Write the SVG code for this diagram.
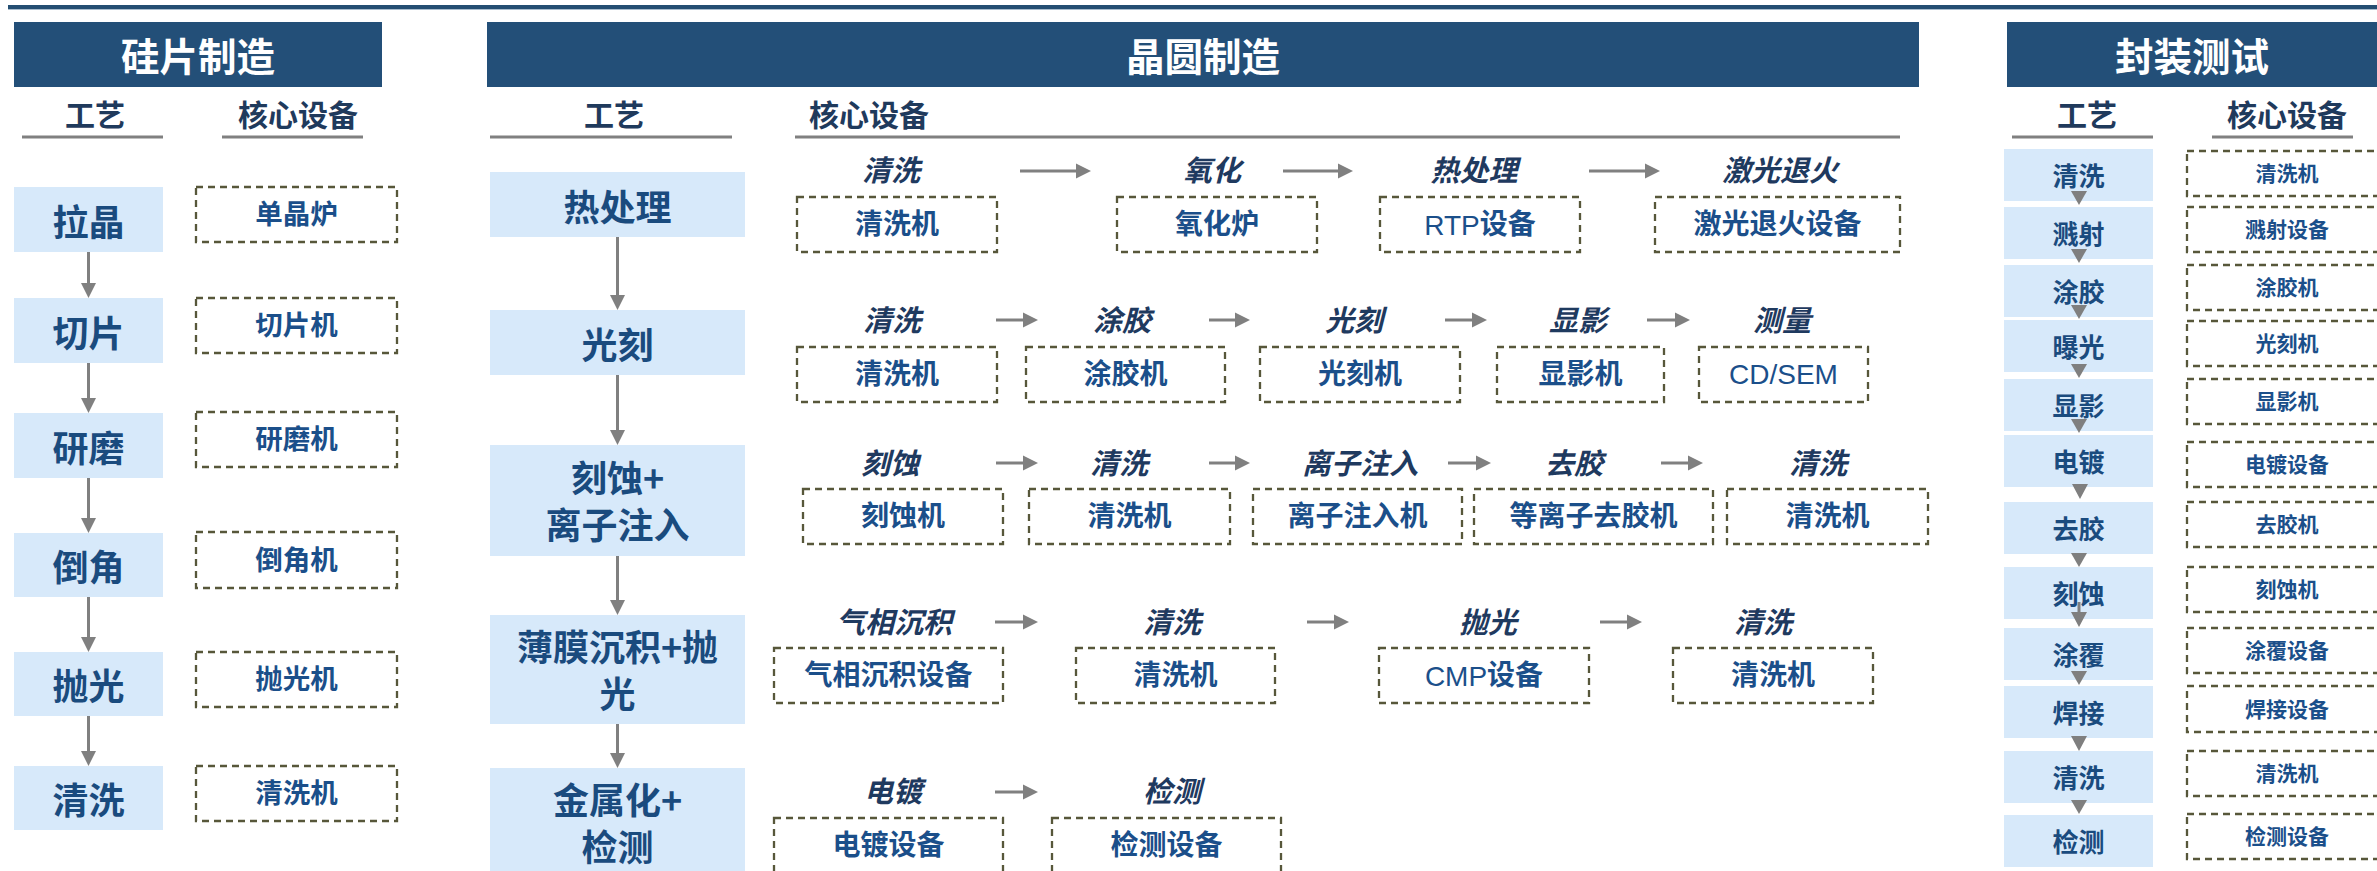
<svg xmlns="http://www.w3.org/2000/svg" width="2377" height="871" viewBox="0 0 2377 871">
<style>
text{font-family:"Liberation Sans","Noto Sans CJK SC",sans-serif;text-anchor:middle;dominant-baseline:central}
.hdr{fill:#234F78}
.hdrt{fill:#FFFFFF;font-size:38.5px;font-weight:700;font-family:"Noto Sans CJK SC",sans-serif}
.sub{fill:#1F3A5C;font-size:30px;font-weight:700;font-family:"Noto Sans CJK SC",sans-serif}
.ul{stroke:#808080;stroke-width:3}
.pbox{fill:#D7E9FA}
.pt{fill:#1A4B7E;font-size:36px;font-weight:700;font-family:"Noto Sans CJK SC",sans-serif}
.pt3{fill:#1A4B7E;font-size:26px;font-weight:700;font-family:"Noto Sans CJK SC",sans-serif}
.ebox{fill:none;stroke:#57573A;stroke-width:2.3;stroke-dasharray:7 5}
.et{fill:#1B4F8A;font-size:28px;font-weight:700}
.et1{fill:#1B4F8A;font-size:27.5px;font-weight:700}
.et3{fill:#1B4F8A;font-size:21px;font-weight:700}
.lat{font-weight:400}
.lab{fill:#1F3A5F;font-size:29px;font-style:italic;font-weight:700;font-family:"Noto Sans CJK SC",sans-serif}
.conn{stroke:#808080;stroke-width:3;fill:none;marker-end:url(#ah)}
.tri{fill:#7F7F7F}
</style>
<defs>
<marker id="ah" markerUnits="userSpaceOnUse" markerWidth="16" markerHeight="16" viewBox="0 0 16 16" refX="5" refY="8" orient="auto">
<path d="M0,0.5 L15,8 L0,15.5 Z" fill="#808080"/>
</marker>
</defs>
<rect x="8" y="5" width="2369" height="4" fill="#244E72"/>
<line x1="8" y1="9.5" x2="2377" y2="9.5" stroke="#A9BCCD" stroke-width="1"/>

<!-- Section headers -->
<g id="hdr-silicon"><rect class="hdr" x="14" y="22" width="368" height="65"/><text class="hdrt" x="198" y="54">硅片制造</text></g>
<g id="hdr-wafer"><rect class="hdr" x="487" y="22" width="1432" height="65"/><text class="hdrt" x="1203" y="54">晶圆制造</text></g>
<g id="hdr-package"><rect class="hdr" x="2007" y="22" width="370" height="65"/><text class="hdrt" x="2192" y="54">封装测试</text></g>

<g id="subheaders">
<text class="sub" x="95" y="113">工艺</text><line class="ul" x1="22" y1="137" x2="163" y2="137"/>
<text class="sub" x="298" y="113">核心设备</text><line class="ul" x1="222" y1="137" x2="363" y2="137"/>
<text class="sub" x="614" y="113">工艺</text><line class="ul" x1="490" y1="137" x2="732" y2="137"/>
<text class="sub" x="809" y="113" style="text-anchor:start">核心设备</text><line class="ul" x1="795" y1="137" x2="1900" y2="137"/>
<text class="sub" x="2087" y="113">工艺</text><line class="ul" x1="2012" y1="137" x2="2153" y2="137"/>
<text class="sub" x="2287" y="113">核心设备</text><line class="ul" x1="2212" y1="137" x2="2353" y2="137"/>
</g>

<!-- Section 1 process -->
<g id="s1-p1"><rect class="pbox" x="14" y="187" width="149" height="65"/><text class="pt" x="88.5" y="219.5">拉晶</text></g>
<g id="s1-p2"><rect class="pbox" x="14" y="298" width="149" height="65"/><text class="pt" x="88.5" y="330.5">切片</text></g>
<g id="s1-p3"><rect class="pbox" x="14" y="413" width="149" height="65"/><text class="pt" x="88.5" y="445.5">研磨</text></g>
<g id="s1-p4"><rect class="pbox" x="14" y="533" width="149" height="64"/><text class="pt" x="88.5" y="565">倒角</text></g>
<g id="s1-p5"><rect class="pbox" x="14" y="652" width="149" height="64"/><text class="pt" x="88.5" y="684">抛光</text></g>
<g id="s1-p6"><rect class="pbox" x="14" y="766" width="149" height="64"/><text class="pt" x="88.5" y="798">清洗</text></g>

<!-- Section 1 equipment -->
<g id="s1-e1"><rect class="ebox" x="196" y="187" width="201" height="55"/><text class="et1" x="296.5" y="214.5">单晶炉</text></g>
<g id="s1-e2"><rect class="ebox" x="196" y="298" width="201" height="55"/><text class="et1" x="296.5" y="325.5">切片机</text></g>
<g id="s1-e3"><rect class="ebox" x="196" y="412" width="201" height="55"/><text class="et1" x="296.5" y="439.5">研磨机</text></g>
<g id="s1-e4"><rect class="ebox" x="196" y="532" width="201" height="56"/><text class="et1" x="296.5" y="560">倒角机</text></g>
<g id="s1-e5"><rect class="ebox" x="196" y="652" width="201" height="55"/><text class="et1" x="296.5" y="679.5">抛光机</text></g>
<g id="s1-e6"><rect class="ebox" x="196" y="766" width="201" height="55"/><text class="et1" x="296.5" y="793.5">清洗机</text></g>

<!-- Section 2 process -->
<g id="s2-p1"><rect class="pbox" x="490" y="172" width="255" height="65"/><text class="pt" x="617.5" y="204.5">热处理</text></g>
<g id="s2-p2"><rect class="pbox" x="490" y="310" width="255" height="65"/><text class="pt" x="617.5" y="342.5">光刻</text></g>
<g id="s2-p3"><rect class="pbox" x="490" y="445" width="255" height="111"/><text class="pt" x="617.5" y="476">刻蚀+</text><text class="pt" x="617.5" y="523">离子注入</text></g>
<g id="s2-p4"><rect class="pbox" x="490" y="615" width="255" height="109"/><text class="pt" x="617.5" y="645">薄膜沉积+抛</text><text class="pt" x="617.5" y="692">光</text></g>
<g id="s2-p5"><rect class="pbox" x="490" y="768" width="255" height="112"/><text class="pt" x="617.5" y="798">金属化+</text><text class="pt" x="617.5" y="845">检测</text></g>

<!-- Section 2 row 1 -->
<g id="r1-s1"><text class="lab" x="891" y="168">清洗</text><rect class="ebox" x="797" y="197" width="200" height="55"/><text class="et" x="897" y="224.5">清洗机</text></g>
<g id="r1-s2"><text class="lab" x="1212" y="168">氧化</text><rect class="ebox" x="1117" y="197" width="200" height="55"/><text class="et" x="1217" y="224.5">氧化炉</text></g>
<g id="r1-s3"><text class="lab" x="1474" y="168">热处理</text><rect class="ebox" x="1380" y="197" width="200" height="55"/><text class="et" x="1480" y="224.5"><tspan class="lat">RTP</tspan>设备</text></g>
<g id="r1-s4"><text class="lab" x="1780" y="168">激光退火</text><rect class="ebox" x="1655" y="197" width="245" height="55"/><text class="et" x="1777.5" y="224.5">激光退火设备</text></g>

<!-- Section 2 row 2 -->
<g id="r2-s1"><text class="lab" x="892" y="318">清洗</text><rect class="ebox" x="797" y="347" width="200" height="55"/><text class="et" x="897" y="374.5">清洗机</text></g>
<g id="r2-s2"><text class="lab" x="1122" y="318">涂胶</text><rect class="ebox" x="1026" y="347" width="199" height="55"/><text class="et" x="1125.5" y="374.5">涂胶机</text></g>
<g id="r2-s3"><text class="lab" x="1354" y="318">光刻</text><rect class="ebox" x="1260" y="347" width="200" height="55"/><text class="et" x="1360" y="374.5">光刻机</text></g>
<g id="r2-s4"><text class="lab" x="1578" y="318">显影</text><rect class="ebox" x="1497" y="347" width="167" height="55"/><text class="et" x="1580.5" y="374.5">显影机</text></g>
<g id="r2-s5"><text class="lab" x="1782" y="318">测量</text><rect class="ebox" x="1699" y="347" width="169" height="55"/><text class="et lat" x="1783.5" y="374.5">CD/SEM</text></g>

<!-- Section 2 row 3 -->
<g id="r3-s1"><text class="lab" x="890" y="461">刻蚀</text><rect class="ebox" x="803" y="489" width="200" height="55"/><text class="et" x="903" y="516.5">刻蚀机</text></g>
<g id="r3-s2"><text class="lab" x="1119" y="461">清洗</text><rect class="ebox" x="1029" y="489" width="201" height="55"/><text class="et" x="1129.5" y="516.5">清洗机</text></g>
<g id="r3-s3"><text class="lab" x="1360" y="461">离子注入</text><rect class="ebox" x="1253" y="489" width="209" height="55"/><text class="et" x="1357.5" y="516.5">离子注入机</text></g>
<g id="r3-s4"><text class="lab" x="1574" y="461">去胶</text><rect class="ebox" x="1474" y="489" width="239" height="55"/><text class="et" x="1593.5" y="516.5">等离子去胶机</text></g>
<g id="r3-s5"><text class="lab" x="1818" y="461">清洗</text><rect class="ebox" x="1727" y="489" width="201" height="55"/><text class="et" x="1827.5" y="516.5">清洗机</text></g>

<!-- Section 2 row 4 -->
<g id="r4-s1"><text class="lab" x="894" y="620">气相沉积</text><rect class="ebox" x="774" y="648" width="229" height="55"/><text class="et" x="888.5" y="675.5">气相沉积设备</text></g>
<g id="r4-s2"><text class="lab" x="1172" y="620">清洗</text><rect class="ebox" x="1076" y="648" width="199" height="55"/><text class="et" x="1175.5" y="675.5">清洗机</text></g>
<g id="r4-s3"><text class="lab" x="1488" y="620">抛光</text><rect class="ebox" x="1379" y="648" width="210" height="55"/><text class="et" x="1484" y="675.5"><tspan class="lat">CMP</tspan>设备</text></g>
<g id="r4-s4"><text class="lab" x="1763" y="620">清洗</text><rect class="ebox" x="1673" y="648" width="200" height="55"/><text class="et" x="1773" y="675.5">清洗机</text></g>

<!-- Section 2 row 5 -->
<g id="r5-s1"><text class="lab" x="893" y="789">电镀</text><rect class="ebox" x="774" y="818" width="229" height="56"/><text class="et" x="888.5" y="845">电镀设备</text></g>
<g id="r5-s2"><text class="lab" x="1172" y="789">检测</text><rect class="ebox" x="1052" y="818" width="229" height="56"/><text class="et" x="1166.5" y="845">检测设备</text></g>

<!-- Section 3 process -->
<g id="s3-p1"><rect class="pbox" x="2004" y="149" width="149" height="52"/><text class="pt3" x="2078.5" y="174">清洗</text></g>
<g id="s3-p2"><rect class="pbox" x="2004" y="207" width="149" height="52"/><text class="pt3" x="2078.5" y="232">溅射</text></g>
<g id="s3-p3"><rect class="pbox" x="2004" y="265" width="149" height="52"/><text class="pt3" x="2078.5" y="290">涂胶</text></g>
<g id="s3-p4"><rect class="pbox" x="2004" y="320" width="149" height="52"/><text class="pt3" x="2078.5" y="345">曝光</text></g>
<g id="s3-p5"><rect class="pbox" x="2004" y="379" width="149" height="52"/><text class="pt3" x="2078.5" y="404">显影</text></g>
<g id="s3-p6"><rect class="pbox" x="2004" y="435" width="149" height="52"/><text class="pt3" x="2078.5" y="460">电镀</text></g>
<g id="s3-p7"><rect class="pbox" x="2004" y="502" width="149" height="52"/><text class="pt3" x="2078.5" y="527">去胶</text></g>
<g id="s3-p8"><rect class="pbox" x="2004" y="567" width="149" height="52"/><text class="pt3" x="2078.5" y="592">刻蚀</text></g>
<g id="s3-p9"><rect class="pbox" x="2004" y="628" width="149" height="52"/><text class="pt3" x="2078.5" y="653">涂覆</text></g>
<g id="s3-p10"><rect class="pbox" x="2004" y="686" width="149" height="52"/><text class="pt3" x="2078.5" y="711">焊接</text></g>
<g id="s3-p11"><rect class="pbox" x="2004" y="751" width="149" height="52"/><text class="pt3" x="2078.5" y="776">清洗</text></g>
<g id="s3-p12"><rect class="pbox" x="2004" y="815" width="149" height="52"/><text class="pt3" x="2078.5" y="840">检测</text></g>

<!-- Section 3 equipment -->
<g id="s3-e1"><rect class="ebox" x="2187" y="151" width="200" height="45"/><text class="et3" x="2287" y="173.5">清洗机</text></g>
<g id="s3-e2"><rect class="ebox" x="2187" y="207" width="200" height="45"/><text class="et3" x="2287" y="229.5">溅射设备</text></g>
<g id="s3-e3"><rect class="ebox" x="2187" y="265" width="200" height="45"/><text class="et3" x="2287" y="287.5">涂胶机</text></g>
<g id="s3-e4"><rect class="ebox" x="2187" y="321" width="200" height="45"/><text class="et3" x="2287" y="343.5">光刻机</text></g>
<g id="s3-e5"><rect class="ebox" x="2187" y="379" width="200" height="45"/><text class="et3" x="2287" y="401.5">显影机</text></g>
<g id="s3-e6"><rect class="ebox" x="2187" y="442" width="200" height="45"/><text class="et3" x="2287" y="464.5">电镀设备</text></g>
<g id="s3-e7"><rect class="ebox" x="2187" y="502" width="200" height="45"/><text class="et3" x="2287" y="524.5">去胶机</text></g>
<g id="s3-e8"><rect class="ebox" x="2187" y="567" width="200" height="45"/><text class="et3" x="2287" y="589.5">刻蚀机</text></g>
<g id="s3-e9"><rect class="ebox" x="2187" y="628" width="200" height="45"/><text class="et3" x="2287" y="650.5">涂覆设备</text></g>
<g id="s3-e10"><rect class="ebox" x="2187" y="686" width="200" height="46"/><text class="et3" x="2287" y="709">焊接设备</text></g>
<g id="s3-e11"><rect class="ebox" x="2187" y="751" width="200" height="45"/><text class="et3" x="2287" y="773.5">清洗机</text></g>
<g id="s3-e12"><rect class="ebox" x="2187" y="814" width="200" height="45"/><text class="et3" x="2287" y="836.5">检测设备</text></g>

<!-- Connectors -->
<g id="connectors">
<line class="conn" x1="88.5" y1="252" x2="88.5" y2="288"/>
<line class="conn" x1="88.5" y1="363" x2="88.5" y2="403"/>
<line class="conn" x1="88.5" y1="478" x2="88.5" y2="523"/>
<line class="conn" x1="88.5" y1="597" x2="88.5" y2="642"/>
<line class="conn" x1="88.5" y1="716" x2="88.5" y2="756"/>

<line class="conn" x1="617.5" y1="237" x2="617.5" y2="300"/>
<line class="conn" x1="617.5" y1="375" x2="617.5" y2="435"/>
<line class="conn" x1="617.5" y1="556" x2="617.5" y2="605"/>
<line class="conn" x1="617.5" y1="724" x2="617.5" y2="758"/>

<line class="conn" x1="1020" y1="171" x2="1081" y2="171"/>
<line class="conn" x1="1283" y1="171" x2="1343" y2="171"/>
<line class="conn" x1="1589" y1="171" x2="1650" y2="171"/>

<line class="conn" x1="996" y1="320" x2="1028" y2="320"/>
<line class="conn" x1="1209" y1="320" x2="1240" y2="320"/>
<line class="conn" x1="1445" y1="320" x2="1477" y2="320"/>
<line class="conn" x1="1647" y1="320" x2="1680" y2="320"/>

<line class="conn" x1="996" y1="463" x2="1028" y2="463"/>
<line class="conn" x1="1209" y1="463" x2="1240" y2="463"/>
<line class="conn" x1="1448" y1="463" x2="1481" y2="463"/>
<line class="conn" x1="1661" y1="463" x2="1693" y2="463"/>

<line class="conn" x1="995" y1="622" x2="1028" y2="622"/>
<line class="conn" x1="1307" y1="622" x2="1339" y2="622"/>
<line class="conn" x1="1600" y1="622" x2="1632" y2="622"/>

<line class="conn" x1="995" y1="792" x2="1028" y2="792"/>

<polygon class="tri" points="2071,191 2087,191 2079,205"/>
<polygon class="tri" points="2071,249 2087,249 2079,263"/>
<polygon class="tri" points="2071,305 2087,305 2079,319"/>
<polygon class="tri" points="2071,364 2087,364 2079,378"/>
<polygon class="tri" points="2071,419 2087,419 2079,433"/>
<polygon class="tri" points="2072,484 2088,484 2080,499"/>
<polygon class="tri" points="2071,553 2087,553 2079,567"/>
<line x1="2079" y1="602" x2="2079" y2="613" stroke="#7F7F7F" stroke-width="3"/>
<polygon class="tri" points="2071,612 2087,612 2079,627"/>
<polygon class="tri" points="2071,671 2087,671 2079,685"/>
<polygon class="tri" points="2071,736 2087,736 2079,751"/>
<polygon class="tri" points="2071,800 2087,800 2079,814"/>
</g>
</svg>
